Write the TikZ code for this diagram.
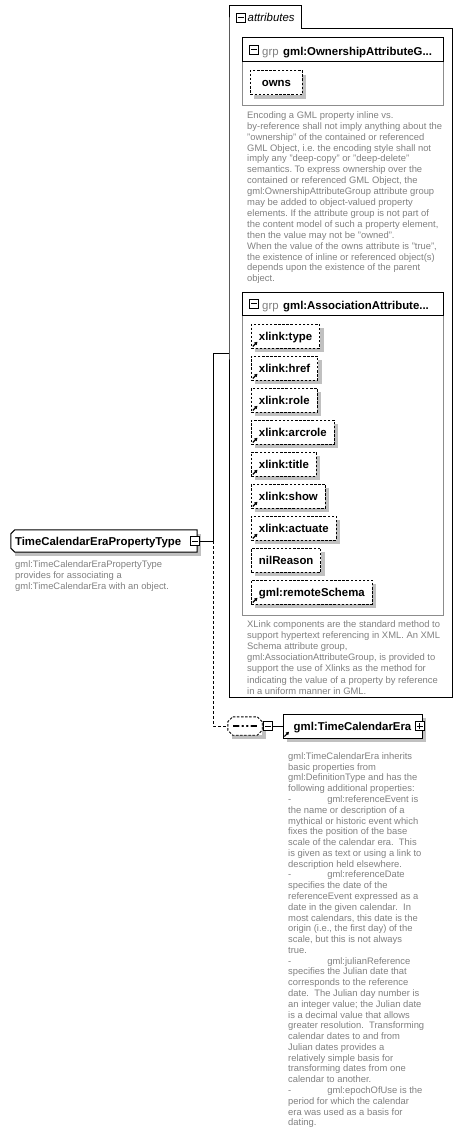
\documentclass[tikz,border=0pt]{standalone}
\usepackage{fontspec}
\setmainfont{Liberation Sans}
\usetikzlibrary{arrows.meta,shadows}
\definecolor{DescGray}{RGB}{128,128,128}
\definecolor{ShadowGray}{RGB}{192,192,192}
\definecolor{FrameGray}{RGB}{140,140,140}
\begin{document}
\begin{tikzpicture}[x=1pt, y=-1pt,
    lbl/.style={font={\fontsize{11.4pt}{13pt}\selectfont\bfseries},
                text height=8.2pt, text depth=0pt},
    boxshadow/.style={general shadow={fill=ShadowGray, shadow xshift=4pt,
                      shadow yshift=-4pt}},
    linkref/.style={path picture={\draw[solid, line width=1.1pt,
                    -{Triangle[length=3pt, width=3.4pt]}]
                    ([shift={(1.4pt,1.6pt)}]path picture bounding box.south west)
                    -- ++(4.6pt,4.6pt);}},
    attr/.style={lbl, rectangle, draw, dash pattern=on 2.5pt off 1.6pt,
                 line width=0.9pt, fill=white, minimum height=24pt,
                 inner xsep=7.5pt, inner ysep=0pt, anchor=west, boxshadow},
    elembox/.style={lbl, rectangle, draw, line width=1pt, fill=white,
                    minimum height=24pt, inner xsep=7pt, boxshadow, linkref},
    propbox/.style={lbl, rectangle, fill=white, text width=178pt, align=left,
                    inner xsep=4pt, minimum height=22pt, boxshadow},
    seqbox/.style={rectangle, fill=white, minimum width=34pt,
                   minimum height=18pt, inner sep=0pt, boxshadow,
                   path picture={
                     \draw[line width=1.2pt]
                       ([xshift=-12pt]path picture bounding box.center)
                       -- ([xshift=12pt]path picture bounding box.center);
                     \fill ([xshift=-4.5pt]path picture bounding box.center) circle (1.6pt);
                     \fill (path picture bounding box.center) circle (1.6pt);
                     \fill ([xshift=4.5pt]path picture bounding box.center) circle (1.6pt);}},
    collapse/.style={rectangle, draw, fill=white, line width=1pt,
                     minimum size=9pt, inner sep=0pt,
                     path picture={\draw[line width=1pt]
                       ([xshift=-3pt]path picture bounding box.center)
                       -- ([xshift=3pt]path picture bounding box.center);}},
    expand/.style={collapse,
                   path picture={\draw[line width=1pt]
                       ([xshift=-3pt]path picture bounding box.center)
                       -- ([xshift=3pt]path picture bounding box.center)
                       ([yshift=-3pt]path picture bounding box.center)
                       -- ([yshift=3pt]path picture bounding box.center);}},
    grphead/.style={draw, line width=1pt, fill=white, minimum width=201pt,
                    minimum height=24pt, anchor=north west, inner sep=0pt},
    grpbody/.style={draw=FrameGray, line width=1pt, minimum width=201pt,
                    anchor=north west, inner sep=0pt},
    grptitle/.style={lbl, anchor=base west, inner sep=0pt},
    desc/.style={anchor=north west, align=left, inner sep=0pt, text=DescGray,
                 font={\fontsize{9.4pt}{#1}\selectfont\frenchspacing}},
    desc/.default=10.9pt,
    wire/.style={line width=1pt},
    seqdash/.style={line width=0.9pt, dash pattern=on 2.5pt off 1.6pt}
  ]
    \useasboundingbox (0,0) rectangle (462,1135);

    % attributes frame with its tab
    \node[minimum width=223pt, minimum height=669pt, anchor=north west,
          inner sep=0pt] (attrs) at (229,28) {};
    \node[minimum width=72pt, minimum height=23pt, anchor=north west,
          inner sep=0pt] (tab) at (229,5) {};
    \draw[wire] (tab.south west) |- (tab.north east) |- (attrs.north east)
      |- (attrs.south west) -- cycle;
    \node[collapse] (tabtog) at (240.5,17.5) {};
    \node[anchor=base west, inner sep=0pt,
          font={\fontsize{11.4pt}{13pt}\selectfont\itshape}] (tabname)
      at (247.5,21.5) {attributes};

    % ownership group
    \node[grpbody, minimum height=44pt] (ownbody) at (242,61) {};
    \node[grphead] (ownhead) at (242,37) {};
    \node[collapse] (owntog) at (254,49.5) {};
    \node[grptitle] (ownname) at (262,55)
      {{\mdseries\color{DescGray}grp}\hspace{4.5pt}gml:OwnershipAttributeG...};
    \node[attr, minimum width=52pt] (owns) at (250,82.5) {owns};

    \node[desc] (owndesc) at (247,111.3) {Encoding a GML property inline vs.\\
      by-reference shall not imply anything about the\\
      "ownership" of the contained or referenced\\
      GML Object, i.e. the encoding style shall not\\
      imply any "deep-copy" or "deep-delete"\\
      semantics. To express ownership over the\\
      contained or referenced GML Object, the\\
      gml:OwnershipAttributeGroup attribute group\\
      may be added to object-valued property\\
      elements. If the attribute group is not part of\\
      the content model of such a property element,\\
      then the value may not be "owned".\\
      When the value of the owns attribute is "true",\\
      the existence of inline or referenced object(s)\\
      depends upon the existence of the parent\\
      object.};

    % association group
    \node[grpbody, minimum height=300pt] (assocbody) at (242,315) {};
    \node[grphead, minimum height=23pt] (assochead) at (242,292) {};
    \node[collapse] (assoctog) at (254,303.5) {};
    \node[grptitle] (assocname) at (262,309)
      {{\mdseries\color{DescGray}grp}\hspace{4.5pt}gml:AssociationAttribute...};

    \node[attr, linkref] (xtype) at (251,336) {xlink:type};
    \node[attr, linkref] (xhref) at (251,368) {xlink:href};
    \node[attr, linkref] (xrole) at (251,400) {xlink:role};
    \node[attr, linkref] (xarcrole) at (251,432) {xlink:arcrole};
    \node[attr, linkref] (xtitle) at (251,464) {xlink:title};
    \node[attr, linkref] (xshow) at (251,496) {xlink:show};
    \node[attr, linkref] (xactuate) at (251,528) {xlink:actuate};
    \node[attr] (nilreason) at (251,560) {nilReason};
    \node[attr, linkref] (remote) at (251,592) {gml:remoteSchema};

    \node[desc=11.2pt] (assocdesc) at (247,620) {XLink components are the standard method to\\
      support hypertext referencing in XML. An XML\\
      Schema attribute group,\\
      gml:AssociationAttributeGroup, is provided to\\
      support the use of Xlinks as the method for\\
      indicating the value of a property by reference\\
      in a uniform manner in GML.};

    % the property type
    \node[propbox] (prop) at (104,541) {TimeCalendarEraPropertyType};
    \draw[wire] ([xshift=4pt]prop.north west) -- (prop.north east)
      -- (prop.south east) -- ([xshift=4pt]prop.south west)
      -- ([yshift=4pt]prop.south west) -- ([yshift=-4pt]prop.north west) -- cycle;
    \node[collapse] (proptog) at (195,541) {};
    \node[desc=11.1pt] (propdesc) at (15,560) {gml:TimeCalendarEraPropertyType\\
      provides for associating a\\
      gml:TimeCalendarEra with an object.};

    % sequence and element
    \node[seqbox] (seq) at (245,726) {};
    \draw[seqdash] ([xshift=5pt]seq.north west) -- ([xshift=-5pt]seq.north east)
      -- ([yshift=-5pt]seq.north east) -- ([yshift=5pt]seq.south east)
      -- ([xshift=-5pt]seq.south east) -- ([xshift=5pt]seq.south west)
      -- ([yshift=5pt]seq.south west) -- ([yshift=-5pt]seq.north west) -- cycle;
    \node[collapse] (seqtog) at (268,726) {};
    \node[elembox, minimum width=139pt] (era) at (352.5,726) {gml:TimeCalendarEra};
    \node[expand] (eratog) at (419.5,726) {};

    \coordinate (jn) at (213,541);
    \coordinate (attrin) at (229,353);
    \draw[wire] (proptog.east) -- (jn);
    \draw[wire] (jn) |- (attrin);
    \draw[wire, dash pattern=on 3pt off 2pt] (jn) |- (seq.west);
    \draw[wire] (seqtog.east) -- (era.west);

    \node[desc=10.78pt] (eradesc) at (288,752.3) {gml:TimeCalendarEra inherits\\
      basic properties from\\
      gml:DefinitionType and has the\\
      following additional properties:\\
      -\hspace{36pt}gml:referenceEvent is\\
      the name or description of a\\
      mythical or historic event which\\
      fixes the position of the base\\
      scale of the calendar era.\ \ This\\
      is given as text or using a link to\\
      description held elsewhere.\\
      -\hspace{36pt}gml:referenceDate\\
      specifies the date of the\\
      referenceEvent expressed as a\\
      date in the given calendar.\ \ In\\
      most calendars, this date is the\\
      origin (i.e., the first day) of the\\
      scale, but this is not always\\
      true.\\
      -\hspace{36pt}gml:julianReference\\
      specifies the Julian date that\\
      corresponds to the reference\\
      date.\ \ The Julian day number is\\
      an integer value; the Julian date\\
      is a decimal value that allows\\
      greater resolution.\ \ Transforming\\
      calendar dates to and from\\
      Julian dates provides a\\
      relatively simple basis for\\
      transforming dates from one\\
      calendar to another.\\
      -\hspace{36pt}gml:epochOfUse is the\\
      period for which the calendar\\
      era was used as a basis for\\
      dating.};
  \end{tikzpicture}
\end{document}
